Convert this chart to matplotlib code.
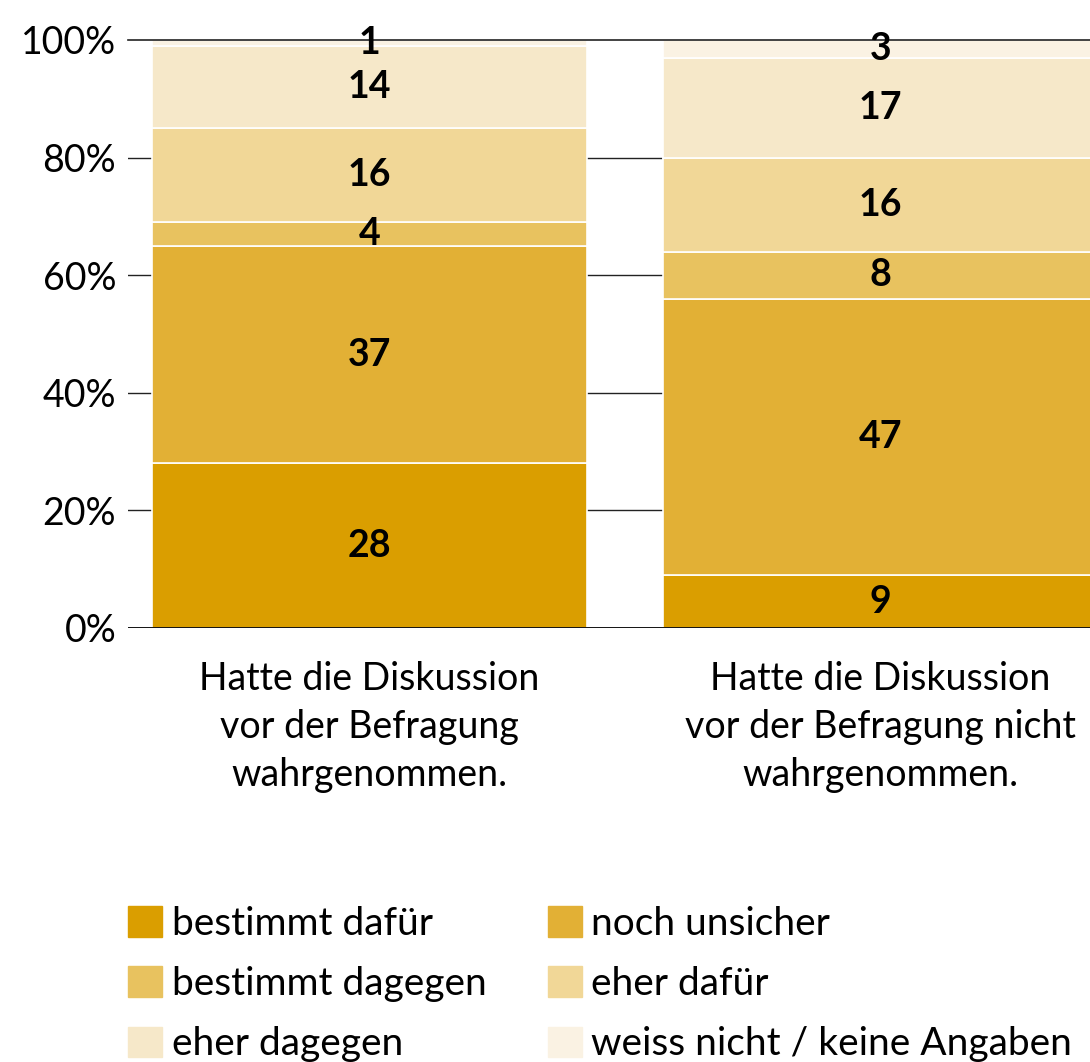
import matplotlib

matplotlib.use("Agg")
import matplotlib.pyplot as plt
import numpy as np
from matplotlib.patches import Patch

plt.rcParams["font.family"] = ["Lato", "DejaVu Sans"]

GROUPS = [
    "Hatte die Diskussion\nvor der Befragung\nwahrgenommen.",
    "Hatte die Diskussion\nvor der Befragung nicht\nwahrgenommen.",
]
SERIES = [
    "bestimmt dafür",
    "noch unsicher",
    "bestimmt dagegen",
    "eher dafür",
    "eher dagegen",
    "weiss nicht / keine Angaben",
]
VALUES = [
    [28, 9],
    [37, 47],
    [4, 8],
    [16, 16],
    [14, 17],
    [1, 3],
]
COLORS = ["#DA9E00", "#E2B035", "#E8C25F", "#F1D797", "#F6E8C9", "#FAF2E3"]
YTICKS = [0, 20, 40, 60, 80, 100]

fig = plt.figure(figsize=(10.9, 10.62), dpi=100)
ax = fig.add_axes([128 / 1090, 1 - 628 / 1062, 1 - 128 / 1090, (628 - 40) / 1062])

x = np.arange(len(GROUPS))
width = 0.852
bottom = np.zeros(len(GROUPS))
for name, vals, color in zip(SERIES, VALUES, COLORS):
    vals = np.array(vals, dtype=float)
    ax.bar(x, vals, width, bottom=bottom, color=color, edgecolor="white",
           linewidth=1.2, label=name, zorder=2)
    for xi, b, v in zip(x, bottom, vals):
        ax.text(xi, b + v / 2, f"{v:.0f}", ha="center", va="center",
                fontsize=27, fontweight="bold", color="black", zorder=4)
    bottom += vals

# grid lines sit behind the bars, except the 100% line which runs over them
for t in YTICKS[1:-1]:
    ax.axhline(t, color="#222222", linewidth=1.0, zorder=1)
ax.axhline(YTICKS[-1], color="#222222", linewidth=1.2, zorder=3, clip_on=False)
ax.axhline(0, color="black", linewidth=1.3, zorder=3)

ax.set_xlim(-0.473, 1.411)
ax.set_ylim(0, 100)
ax.set_yticks(YTICKS)
ax.set_yticklabels([f"{t}%" for t in YTICKS], fontsize=27)
ax.tick_params(axis="y", length=0, pad=8.5)
ax.set_xticks(x)
ax.set_xticklabels(GROUPS, fontsize=27, linespacing=1.4)
ax.tick_params(axis="x", length=0, pad=24)
for s in ax.spines.values():
    s.set_visible(False)

handles = [Patch(color=c) for c in COLORS]
order = [0, 2, 4, 1, 3, 5]
fig.legend([handles[i] for i in order], [SERIES[i] for i in order],
           loc="upper left", bbox_to_anchor=(128 / 1090, 1 - 906 / 1062),
           ncol=2, frameon=False, fontsize=28, handlelength=0.87, handleheight=0.82,
           handletextpad=0.25, columnspacing=1.58, labelspacing=0.62, borderpad=0,
           borderaxespad=0)

fig.savefig("out.png", dpi=100)
